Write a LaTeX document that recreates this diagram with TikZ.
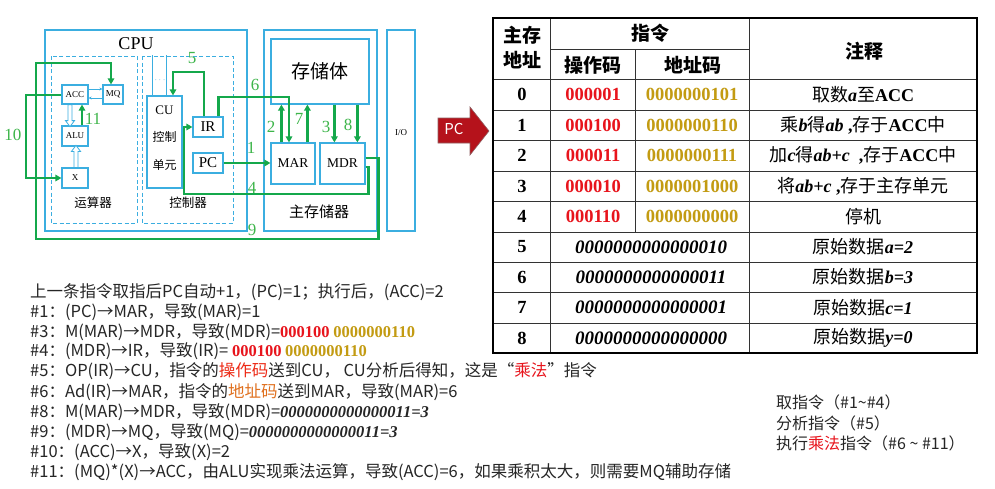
\documentclass[tikz,border=0pt]{standalone}
\usepackage{fontspec}
\setmainfont{Liberation Serif}
\newfontfamily\cjk{Noto Sans CJK SC}
\usetikzlibrary{arrows.meta,calc}
\definecolor{gline}{HTML}{14A84B}
\definecolor{glab}{HTML}{3DB54A}
\definecolor{bbox}{HTML}{3BAEE0}
\definecolor{tred}{HTML}{E8141C}
\definecolor{tgold}{HTML}{C39B12}
\definecolor{txt}{HTML}{262626}
\definecolor{pcred}{HTML}{B5121B}
\definecolor{orng}{HTML}{E0701E}
\newcommand\fs[1]{\fontsize{#1}{#1}\selectfont}
\newcommand\zh[1]{{\cjk #1}}
\newcommand\bi[1]{{\rmfamily\bfseries\itshape #1}}
\newcommand\bn[1]{{\rmfamily\bfseries #1}}
\begin{document}
\begin{tikzpicture}[x=1pt,y=-1pt,
  box/.style={draw=bbox, line width=1.2pt, inner sep=0pt, fill=white},
  outerbox/.style={draw=bbox, line width=1.6pt},
  dashbox/.style={draw=bbox, line width=0.9pt, dash pattern=on 4pt off 2.5pt},
  gl/.style={draw=gline, line width=2.3pt},
  ga/.style={gl, -{Triangle[length=6pt,width=6.5pt]}},
  numlbl/.style={text=glab, font=\fs{17}, inner sep=0pt},
  thinarr/.style={draw=bbox, line width=0.8pt, -{Stealth[length=3pt,width=3pt]}},
  hollow/.style={draw=bbox, line width=0.8pt, fill=white},
  cell/.style={inner sep=0pt, font=\fs{18.5}},
  hdr/.style={inner sep=0pt, font=\cjk\bfseries\fs{19}},
  cmt/.style={inner sep=0pt, font=\fs{18}},
  txtline/.style={anchor=west, inner sep=0pt, text=txt, font=\cjk\fs{16.5}},
  sidetxt/.style={anchor=west, inner sep=0pt, text=txt, font=\cjk\fs{16}},
]
\useasboundingbox (0,0) rectangle (995,488);
\fill[white] (0,0) rectangle (995,488);

% ---------- outer frames ----------
\draw[outerbox] (45,30) rectangle (247,231);
\draw[outerbox] (264,30) rectangle (377,231);
\draw[outerbox] (387,30) rectangle (415,231);
\draw[dashbox] (51,56) rectangle (137,223);
\draw[dashbox] (142,56) rectangle (233,223);
\node[inner sep=0pt, font=\fs{18}] (cpulbl) at (136,44) {CPU};
\node[inner sep=0pt, font=\cjk\fs{12.5}] (alulbl) at (93,203) {运算器};
\node[inner sep=0pt, font=\cjk\fs{12.5}] (ctllbl) at (188,203) {控制器};
\node[inner sep=0pt, font=\cjk\fs{15}] (memlbl) at (319,212) {主存储器};
\node[inner sep=0pt, font=\fs{9}] (io) at (401,133) {I/O};

% ---------- boxes ----------
\node[box, minimum width=26pt, minimum height=19pt, font=\fs{9}] (acc) at (75,94.5) {ACC};
\node[box, minimum width=20pt, minimum height=19pt, font=\fs{9}] (mq) at (113,94.5) {MQ};
\node[box, minimum width=26pt, minimum height=20pt, font=\fs{9}] (alu) at (75,136) {ALU};
\node[box, minimum width=26pt, minimum height=20pt, font=\fs{9}] (xb) at (75,178) {X};
\node[box, minimum width=35pt, minimum height=92pt] (cu) at (164.5,142) {};
\node[inner sep=0pt, font=\fs{13}] (cut) at (164.5,110) {CU};
\node[inner sep=0pt, font=\cjk\fs{12}] (cuk) at (164.5,137) {控制};
\node[inner sep=0pt, font=\cjk\fs{12}] (cud) at (164.5,165) {单元};
\node[box, minimum width=30pt, minimum height=20pt, font=\fs{15}] (ir) at (208,127) {IR};
\node[box, minimum width=30pt, minimum height=20pt, font=\fs{15}] (pc) at (208,163) {PC};
\node[box, minimum width=44pt, minimum height=41pt, font=\fs{13.5}] (mar) at (293,163.5) {MAR};
\node[box, minimum width=45pt, minimum height=41pt, font=\fs{13.5}] (mdr) at (342.5,163.5) {MDR};
\node[box, minimum width=98pt, minimum height=65pt, font=\cjk\fs{19}] (mem) at (320,71.5) {存储体};

% CU top lines and dots
\draw[draw=bbox, line width=0.8pt] ($(cu.north west)+(6,0)$) -- ++(0,-40);
\draw[draw=bbox, line width=0.8pt] ($(cu.north west)+(20,0)$) -- ++(0,-40);
\node[inner sep=0pt, text=bbox, font=\fs{9}] (dots) at (160,80) {$\cdots$};

% ACC <-> MQ
\draw[thinarr] ($(acc.east)+(0,-5.5)$) -- ($(mq.west)+(0,-5.5)$);
\draw[thinarr] ($(mq.west)+(0,3.5)$) -- ($(acc.east)+(0,3.5)$);

% hollow arrows ACC -> ALU, X -> ALU
\coordinate (h1) at ($(acc.south)+(-5,0)$);
\draw[hollow] (h1) ++(-2,0) -- ++(0,16) -- ++(-2.5,0) -- ++(4.5,6) -- ++(4.5,-6) -- ++(-2.5,0) -- ++(0,-16) -- cycle;
\coordinate (h2) at ($(xb.north)+(1,0)$);
\draw[hollow] (h2) ++(-2,0) -- ++(0,-16) -- ++(-2.5,0) -- ++(4.5,-6) -- ++(4.5,6) -- ++(-2.5,0) -- ++(0,16) -- cycle;

% ---------- green data paths ----------
% 1
\draw[ga] (pc.east) -- (pc.east -| mar.west);
\node[numlbl] (n1) at (251,148) {1};
% 2
\coordinate (c2) at ($(mar.north west)+(11,0)$);
\draw[ga] (c2) -- (c2 |- mem.south);
\node[numlbl] (n2) at (271,127) {2};
% 3
\coordinate (c3) at ($(mdr.north west)+(15,0)$);
\draw[ga] (c3 |- mem.south) -- (c3);
\node[numlbl] (n3) at (326,127) {3};
% 4
\coordinate (c4a) at ($(mdr.east)+(0,3.5)$);
\draw[ga] (c4a) -- ++(3,0) |- (184,194) |- (ir.west);
\node[numlbl] (n4) at (252,188) {4};
% 5
\coordinate (k5) at (173,72);
\draw[ga] ($(ir.north)+(-4,0)$) |- (k5) -- (k5 |- cu.north);
\node[numlbl] (n5) at (192,58) {5};
% 6
\coordinate (k6) at (289,97);
\draw[ga] ($(ir.north east)+(-5,0)$) |- (k6) -- (k6 |- mar.north);
\node[numlbl] (n6) at (255,85) {6};
% 7
\coordinate (c7) at ($(mar.north west)+(37,0)$);
\draw[ga] (c7) -- (c7 |- mem.south);
\node[numlbl] (n7) at (299,119) {7};
% 8
\coordinate (c8) at ($(mdr.north west)+(38,0)$);
\draw[ga] (c8 |- mem.south) -- (c8);
\node[numlbl] (n8) at (348,125) {8};
% 9
\coordinate (k9) at (111,63);
\draw[ga] ($(mdr.east)+(0,-5.5)$) -- ++(13,0) |- (36,239) |- (k9) -- (k9 |- mq.north);
\node[numlbl] (n9) at (252,230) {9};
% 10
\draw[ga] ($(acc.west)+(0,0.5)$) -| (26,178) -- (xb.west);
\node[numlbl] (n10) at (13,135) {10};
% 11
\coordinate (c11) at ($(alu.north)+(7,0)$);
\draw[ga] (c11) -- (c11 |- acc.south);
\node[numlbl] (n11) at (93,119) {11};

% ---------- PC arrow ----------
\fill[pcred, draw=gray!70!pcred, line width=0.6pt] (438,118) -- (470,118) -- (470,107) -- (489,131) -- (470,155) -- (470,143) -- (438,143) -- cycle;
\node[inner sep=0pt, text=white, font=\cjk\fs{15}] (pcarrow) at (454,129) {PC};

% ---------- table ----------
\draw[line width=0.9pt, black!80] (493,79) -- (977,79);
\foreach \yy in {110,140,171,201,232,262,292,323}
  \draw[line width=0.9pt, black!80] (493,\yy) -- (977,\yy);
\draw[line width=0.9pt, black!80] (550,49) -- (749,49);
\draw[line width=0.9pt, black!80] (550,18) -- (550,353);
\draw[line width=0.9pt, black!80] (749,18) -- (749,353);
\draw[line width=0.9pt, black!80] (635,49) -- (635,232);
\draw[line width=2.6pt, black] (493,18) rectangle (977,353);

\node[hdr] (h1a) at (522,35) {主存};
\node[hdr] (h1b) at (522,60) {地址};
\node[hdr] (h2) at (650,33) {指令};
\node[hdr] (h3) at (593,65) {操作码};
\node[hdr] (h4) at (693,65) {地址码};
\node[hdr] (h5) at (864,51) {注释};

\foreach \r/\yy in {0/94.5,1/125,2/155.5,3/186,4/216.5,5/247,6/277,7/307.5,8/338}
  \node[cell] (a\r) at (522,\yy) {\bfseries \r};

\node[cell, text=tred] (op0) at (593,94.5) {\bfseries 000001};
\node[cell, text=tred] (op1) at (593,125) {\bfseries 000100};
\node[cell, text=tred] (op2) at (593,155.5) {\bfseries 000011};
\node[cell, text=tred] (op3) at (593,186) {\bfseries 000010};
\node[cell, text=tred] (op4) at (593,216.5) {\bfseries 000110};
\node[cell, text=tgold] (ad0) at (692,94.5) {\bfseries 0000000101};
\node[cell, text=tgold] (ad1) at (692,125) {\bfseries 0000000110};
\node[cell, text=tgold] (ad2) at (692,155.5) {\bfseries 0000000111};
\node[cell, text=tgold] (ad3) at (692,186) {\bfseries 0000001000};
\node[cell, text=tgold] (ad4) at (692,216.5) {\bfseries 0000000000};
\node[cell, font=\fs{19}] (d5) at (651,247) {\bi{0000000000000010}};
\node[cell, font=\fs{19}] (d6) at (651,277) {\bi{0000000000000011}};
\node[cell, font=\fs{19}] (d7) at (651,307.5) {\bi{0000000000000001}};
\node[cell, font=\fs{19}] (d8) at (651,338) {\bi{0000000000000000}};

\node[cmt] (c0) at (863,94.5) {\zh{取数}\bi{a}\zh{至}\bn{ACC}};
\node[cmt] (c1) at (863,125) {\zh{乘}\bi{b}\zh{得}\bi{ab}\bn{ ,}\zh{存于}\bn{ACC}\zh{中}};
\node[cmt] (c2t) at (863,155.5) {\zh{加}\bi{c}\zh{得}\bi{ab+c}\bn{~ ,}\zh{存于}\bn{ACC}\zh{中}};
\node[cmt] (c3t) at (863,186) {\zh{将}\bi{ab+c}\bn{ ,}\zh{存于主存单元}};
\node[cmt] (c4t) at (863,216.5) {\zh{停机}};
\node[cmt] (c5t) at (863,247) {\zh{原始数据}\bi{a=2}};
\node[cmt] (c6t) at (863,277) {\zh{原始数据}\bi{b=3}};
\node[cmt] (c7t) at (863,307.5) {\zh{原始数据}\bi{c=1}};
\node[cmt] (c8t) at (863,338) {\zh{原始数据}\bi{y=0}};

% ---------- bottom text ----------
\node[txtline] (l0) at (30,292) {上一条指令取指后PC自动+1，(PC)=1；执行后，(ACC)=2};
\node[txtline] (l1) at (30,312) {\#1：(PC)→MAR，导致(MAR)=1};
\node[txtline] (l3) at (30,332) {\#3：M(MAR)→MDR，导致(MDR)=\textcolor{tred}{\bn{\fs{16.5}000100}} \textcolor{tgold}{\bn{\fs{16.5}0000000110}}};
\node[txtline] (l4) at (30,351) {\#4：(MDR)→IR，导致(IR)= \textcolor{tred}{\bn{\fs{16.5}000100}} \textcolor{tgold}{\bn{\fs{16.5}0000000110}}};
\node[txtline] (l5) at (30,371) {\#5：OP(IR)→CU，指令的\textcolor{tred!80!orange}{操作码}送到CU，  CU分析后得知，这是“\textcolor{tred}{乘法}”指令};
\node[txtline] (l6) at (30,392) {\#6：Ad(IR)→MAR，指令的\textcolor{orng}{地址码}送到MAR，导致(MAR)=6};
\node[txtline] (l8) at (30,412) {\#8：M(MAR)→MDR，导致(MDR)=\bi{\fs{16.5}0000000000000011=3}};
\node[txtline] (l9) at (30,432) {\#9：(MDR)→MQ，导致(MQ)=\bi{\fs{16.5}0000000000000011=3}};
\node[txtline] (l10) at (30,452) {\#10：(ACC)→X，导致(X)=2};
\node[txtline] (l11) at (30,472) {\#11：(MQ)*(X)→ACC，由ALU实现乘法运算，导致(ACC)=6，如果乘积太大，则需要MQ辅助存储};

\node[sidetxt] (r1) at (776,402) {取指令（\#1\textasciitilde\#4）};
\node[sidetxt] (r2) at (776,423) {分析指令（\#5）};
\node[sidetxt] (r3) at (776,443) {执行\textcolor{tred}{乘法}指令（\#6 \textasciitilde\ \#11）};
\end{tikzpicture}
\end{document}
